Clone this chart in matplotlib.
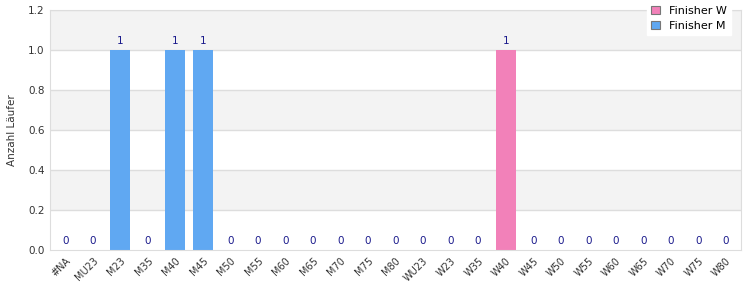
import matplotlib
matplotlib.use("Agg")
import matplotlib.pyplot as plt
import numpy as np

categories = ["#NA", "MU23", "M23", "M35", "M40", "M45", "M50", "M55", "M60",
              "M65", "M70", "M75", "M80", "WU23", "W23", "W35", "W40", "W45",
              "W50", "W55", "W60", "W65", "W70", "W75", "W80"]
finisher_w = [0, 0, 0, 0, 0, 0, 0, 0, 0, 0, 0, 0, 0, 0, 0, 0, 1, 0, 0, 0, 0, 0, 0, 0, 0]
finisher_m = [0, 0, 1, 0, 1, 1, 0, 0, 0, 0, 0, 0, 0, 0, 0, 0, 0, 0, 0, 0, 0, 0, 0, 0, 0]
y_ticks = [0.0, 0.2, 0.4, 0.6, 0.8, 1.0, 1.2]

col_w = "#f281b9"
col_m = "#60a8f2"
grid_col = "#dddddd"

fig = plt.figure(figsize=(7.5, 3), dpi=100)
ax = fig.add_axes([0.0667, 0.1667, 0.9213, 0.8])

x = np.arange(len(categories))
w = np.array(finisher_w)
m = np.array(finisher_m)

# alternating background bands
for i in range(len(y_ticks) - 1):
    if (len(y_ticks) - 2 - i) % 2 == 0:
        ax.axhspan(y_ticks[i], y_ticks[i + 1], color="#f3f3f3", zorder=0, lw=0)
    ax.axhline(y_ticks[i + 1], color=grid_col, lw=1, zorder=1)

ax.bar(x, m, width=0.72, color=col_m, label="Finisher M", zorder=2)
ax.bar(x, w, width=0.72, bottom=m, color=col_w, label="Finisher W", zorder=2)

total = w + m
for xi, t in zip(x, total):
    ax.annotate(str(t), (xi, t), xytext=(0, 3), textcoords="offset points",
                ha="center", va="bottom", fontsize=7.5, color="#1a1a8c", zorder=3)

ax.set_xlim(-0.55, len(categories) - 0.45)
ax.set_ylim(0, 1.2)
ax.set_yticks(y_ticks)
ax.set_yticklabels(["%.1f" % v for v in y_ticks], fontsize=7.5, color="#333333")
ax.set_xticks(x)
ax.set_xticklabels(categories, rotation=45, ha="right", rotation_mode="anchor",
                   fontsize=7, color="#333333")
ax.tick_params(length=0, pad=4)
ax.set_ylabel("Anzahl Läufer", fontsize=7.5, color="#333333", labelpad=8)
for s in ax.spines.values():
    s.set_color(grid_col)

h, l = ax.get_legend_handles_labels()
leg = ax.legend(h[::-1], l[::-1], loc="upper right", bbox_to_anchor=(0.994, 1.06),
                fontsize=8, frameon=True, fancybox=False, framealpha=1,
                edgecolor="white", handlelength=0.8, handleheight=0.8,
                borderpad=0.4, labelspacing=0.45)
for p in leg.get_patches():
    p.set_edgecolor("#777777")
    p.set_linewidth(0.8)

fig.savefig("out.png", dpi=100)
